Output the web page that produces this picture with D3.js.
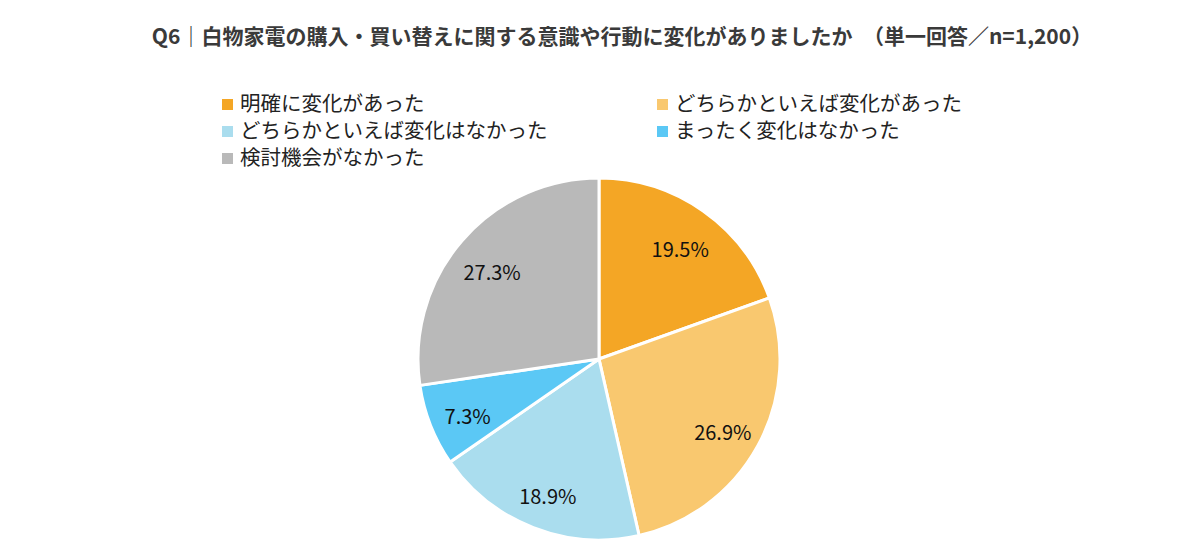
<!DOCTYPE html>
<html>
<head>
<meta charset="utf-8">
<script src="https://cdn.jsdelivr.net/npm/d3@7"></script>
<style>
  body { margin: 0; background: #fff; }
  svg { font-family: "Noto Sans CJK JP", "Noto Sans", sans-serif; }
</style>
</head>
<body>
<div id="chart"></div>
<script>
"use strict"

const titleText = "Q6｜白物家電の購入・買い替えに関する意識や行動に変化がありましたか　（単一回答／n=1,200）";
const categories = ["明確に変化があった", "どちらかといえば変化があった", "どちらかといえば変化はなかった", "まったく変化はなかった", "検討機会がなかった"];
const values = [19.5, 26.9, 18.9, 7.3, 27.3];
const colors = ["#F4A625", "#F9C86F", "#AADDEE", "#5BC8F5", "#B9B9B9"];

let width = 1200, height = 543;

let svg = d3.select("#chart").append("svg")
  .attr("width", width)
  .attr("height", height);

// title
svg.append("text")
  .attr("x", 622)
  .attr("y", 44)
  .attr("text-anchor", "middle")
  .style("font-size", "21px")
  .style("font-weight", "bold")
  .style("fill", "#3a3a3a")
  .text(titleText);

// legend, two columns
let legend = svg.append("g").selectAll("g")
  .data(categories)
  .enter().append("g")
  .attr("transform", (d, i) => "translate(" + (i % 2 === 0 ? 222 : 657) + "," + (104 + Math.floor(i / 2) * 27) + ")");

legend.append("rect")
  .attr("x", 0)
  .attr("y", -5)
  .attr("width", 11)
  .attr("height", 11)
  .style("fill", (d, i) => colors[i]);

legend.append("text")
  .attr("x", 18)
  .attr("y", 0)
  .attr("dy", "0.35em")
  .style("font-size", "20.5px")
  .style("fill", "#222")
  .text(d => d);

// pie
let cx = 599, cy = 359, radius = 181;

let pie = d3.pie().sort(null).value(d => d);
let arc = d3.arc().innerRadius(0).outerRadius(radius);
let labelArc = d3.arc().innerRadius(radius * 0.78).outerRadius(radius * 0.78);

let g = svg.append("g").attr("transform", "translate(" + cx + "," + cy + ")");

let slices = g.selectAll("g.slice")
  .data(pie(values))
  .enter().append("g")
  .attr("class", "slice");

slices.append("path")
  .attr("d", arc)
  .style("fill", (d, i) => colors[i])
  .style("stroke", "#fff")
  .style("stroke-width", 3);

slices.append("text")
  .attr("transform", d => {
    let c = labelArc.centroid(d);
    return "translate(" + c[0] + "," + (c[1] + 6) + ")";
  })
  .attr("text-anchor", "middle")
  .attr("dy", "0.35em")
  .style("font-size", "20px")
  .style("fill", "#111")
  .text(d => d.data.toFixed(1) + "%");
</script>
</body>
</html>
